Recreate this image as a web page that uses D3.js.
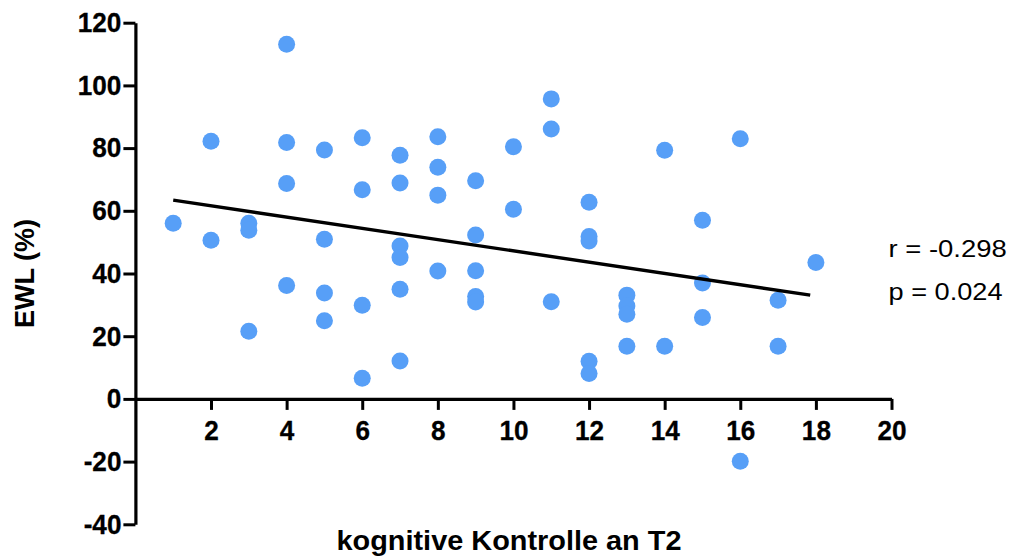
<!DOCTYPE html>
<html>
<head>
<meta charset="utf-8">
<script src="https://cdn.jsdelivr.net/npm/d3@7"></script>
<style>
  html, body { margin: 0; padding: 0; background: #fff; }
  svg { display: block; font-family: "Liberation Sans", Arial, Helvetica, sans-serif; }
</style>
</head>
<body>
<svg id="chart" width="1012" height="559"></svg>
<script>
// Cognitive control score at T2 (x) vs. excess weight loss in % (y), one entry per patient
const kontrolle = [
  1,
  2, 2,
  3, 3, 3,
  4, 4, 4, 4,
  5, 5, 5, 5,
  6, 6, 6, 6,
  7, 7, 7, 7, 7, 7,
  8, 8, 8, 8,
  9, 9, 9, 9, 9,
  10, 10,
  11, 11, 11,
  12, 12, 12, 12, 12,
  13, 13, 13, 13,
  14, 14,
  15, 15, 15,
  16, 16,
  17, 17,
  18
];
const ewl = [
  56.0,
  82.2, 50.6,
  56.0, 53.8, 21.6,
  113.1, 81.8, 68.7, 36.2,
  79.4, 50.9, 33.8, 24.9,
  83.3, 66.7, 29.9, 6.6,
  77.7, 68.9, 48.8, 45.1, 35.0, 12.1,
  83.6, 73.9, 65.0, 40.8,
  69.6, 52.3, 40.9, 32.7, 30.9,
  80.4, 60.5,
  95.7, 86.1, 31.0,
  62.7, 51.8, 50.4, 12.0, 8.1,
  33.1, 29.6, 27.0, 16.8,
  79.3, 16.8,
  57.0, 37.0, 26.0,
  83.0, -19.9,
  31.5, 16.8,
  43.5
];

// Linear regression line end points
const fitX = [1, 17.85];
const fitY = [63.4, 33.1];

// Axis ticks
const xTicks = [2, 4, 6, 8, 10, 12, 14, 16, 18, 20];
const yTicks = [-40, -20, 0, 20, 40, 60, 80, 100, 120];

// Labels
const xTitle = "kognitive Kontrolle an T2";
const yTitle = "EWL (%)";
const statLines = ["r = -0.298", "p = 0.024"];

const svg = d3.select("#chart");

const x = d3.scaleLinear().domain([0, 20]).range([135.4, 891.5]);
const y = d3.scaleLinear().domain([-40, 120]).range([524.3, 22.7]);

const tickFont = "bold 27.5px 'Liberation Sans', Arial, sans-serif";
const plainNumber = d => String(d);

// Y axis
const yAxis = svg.append("g")
  .attr("transform", `translate(${x(0)},0)`)
  .call(d3.axisLeft(y).tickValues(yTicks).tickFormat(plainNumber)
    .tickSize(12).tickSizeOuter(0).tickPadding(2));

// X axis on the zero line
const xAxis = svg.append("g")
  .attr("transform", `translate(0,${y(0)})`)
  .call(d3.axisBottom(x).tickValues(xTicks).tickFormat(plainNumber)
    .tickSize(11).tickSizeOuter(0).tickPadding(11));

[yAxis, xAxis].forEach(g => {
  g.select(".domain").attr("stroke", "#000").attr("stroke-width", 3.2);
  g.selectAll(".tick line").attr("stroke", "#000").attr("stroke-width", 3);
  g.selectAll(".tick text")
    .attr("fill", "#000")
    .style("font", tickFont)
    .attr("stroke", "#000")
    .attr("stroke-width", 0.3)
    .each(function () {
      // slightly narrower, tall digits
      const w = this.getComputedTextLength();
      d3.select(this).attr("textLength", w * 0.95).attr("lengthAdjust", "spacingAndGlyphs");
    });
});

// Scatter points
svg.append("g")
  .selectAll("circle")
  .data(kontrolle.map((k, i) => ({ k, v: ewl[i] })))
  .join("circle")
  .attr("cx", d => x(d.k))
  .attr("cy", d => y(d.v))
  .attr("r", 8.5)
  .attr("fill", "#579ff7");

// Regression line
svg.append("path")
  .datum(fitX.map((fx, i) => [fx, fitY[i]]))
  .attr("d", d3.line().x(d => x(d[0])).y(d => y(d[1])))
  .attr("fill", "none")
  .attr("stroke", "#000")
  .attr("stroke-width", 3.4);

// Axis titles
svg.append("text")
  .attr("x", 336.5)
  .attr("y", 549.5)
  .attr("textLength", 345)
  .attr("lengthAdjust", "spacingAndGlyphs")
  .style("font", "bold 27px 'Liberation Sans', Arial, sans-serif")
  .text(xTitle);

svg.append("text")
  .attr("transform", "translate(33.5,273.5) rotate(-90)")
  .attr("text-anchor", "middle")
  .style("font", "bold 27px 'Liberation Sans', Arial, sans-serif")
  .text(yTitle);

// Correlation statistics
svg.append("g")
  .selectAll("text")
  .data(statLines)
  .join("text")
  .attr("x", 888.5)
  .attr("y", (d, i) => 256.7 + i * 43.3)
  .attr("textLength", (d, i) => i === 0 ? 118.3 : 114)
  .attr("lengthAdjust", "spacingAndGlyphs")
  .style("font", "23.5px 'Liberation Sans', Arial, sans-serif")
  .text(d => d);
</script>
</body>
</html>
